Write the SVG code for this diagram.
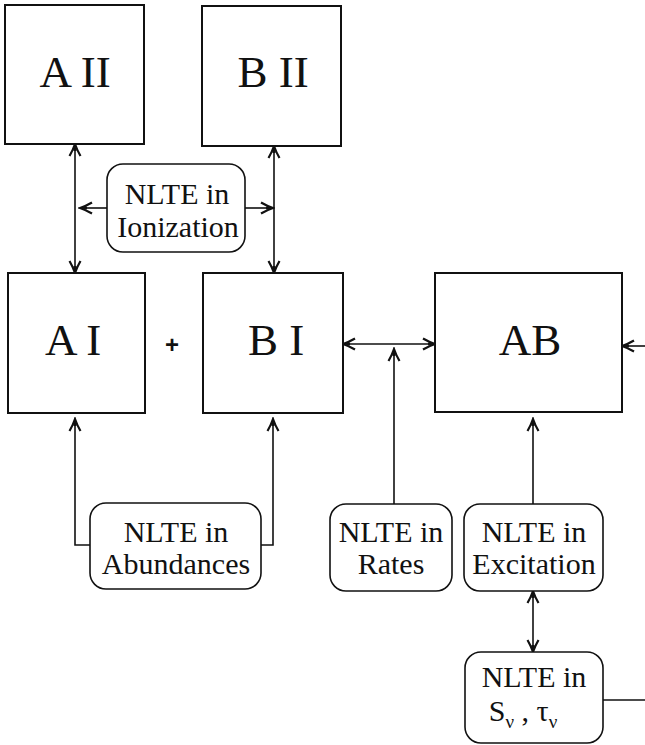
<svg xmlns="http://www.w3.org/2000/svg" width="645" height="745" viewBox="0 0 645 745">
  <style>
    .box { fill: #fff; stroke: #111; stroke-width: 2; }
    .rbox { fill: #fff; stroke: #111; stroke-width: 1.6; }
    .big { font-size: 45px; fill: #111; text-anchor: middle; }
    .lbl { font-size: 30px; fill: #111; text-anchor: middle; }
    .sub { font-size: 19px; }
    .wire { fill: none; stroke: #111; stroke-width: 1.6; }
    .both { marker-start: url(#head); marker-end: url(#head); }
    .one { marker-end: url(#head); }
  </style>
  <defs>
    <marker id="head" viewBox="-14 -8 16 16" refX="0" refY="0" markerWidth="16" markerHeight="16" markerUnits="userSpaceOnUse" orient="auto-start-reverse">
      <path d="M-12,-5.5 Q-6,-2 0,0 Q-6,2 -12,5.5" fill="none" stroke="#111" stroke-width="2.2"/>
      <path d="M-7,-1.6 L0,0 L-7,1.6 Z" fill="#111"/>
    </marker>
  </defs>

  <rect width="645" height="745" fill="#fff"/>

  <!-- connectors -->
  <g id="connectors">
    <line class="wire both" x1="75" y1="144" x2="75" y2="273"/>
    <line class="wire both" x1="274" y1="146" x2="274" y2="273"/>
    <line class="wire one" x1="107" y1="208" x2="80" y2="208"/>
    <line class="wire one" x1="245" y1="208" x2="273" y2="208"/>
    <line class="wire both" x1="343" y1="344" x2="435" y2="344"/>
    <line class="wire one" x1="394" y1="504" x2="394" y2="349"/>
    <path class="wire one" d="M90,545 H75 V419"/>
    <path class="wire one" d="M261,545 H273 V419"/>
    <line class="wire one" x1="533" y1="504" x2="533" y2="419"/>
    <line class="wire both" x1="533" y1="591" x2="533" y2="652"/>
    <line class="wire" x1="603" y1="700" x2="645" y2="700"/>
    <line class="wire one" x1="645" y1="346" x2="622" y2="346"/>
  </g>

  <g font-family="Liberation Serif, Times New Roman, serif">
    <!-- species boxes -->
    <g id="AII">
      <rect class="box" x="5" y="5" width="139" height="139"/>
      <text class="big" x="75" y="87" font-family="Liberation Serif">A II</text>
    </g>
    <g id="BII">
      <rect class="box" x="202" y="6" width="139" height="140"/>
      <text class="big" x="273" y="87" font-family="Liberation Serif">B II</text>
    </g>
    <g id="AI">
      <rect class="box" x="8" y="273" width="137" height="140"/>
      <text class="big" x="73" y="355" font-family="Liberation Serif">A I</text>
    </g>
    <g id="plus">
      <text x="172" y="353" font-family="Liberation Sans, Arial, sans-serif" font-size="24" font-weight="bold" fill="#111" text-anchor="middle">+</text>
    </g>
    <g id="BI">
      <rect class="box" x="203" y="273" width="140" height="140"/>
      <text class="big" x="276" y="355" font-family="Liberation Serif">B I</text>
    </g>
    <g id="AB">
      <rect class="box" x="435" y="273" width="187" height="139"/>
      <text class="big" x="530" y="355" font-family="Liberation Serif">AB</text>
    </g>

    <!-- NLTE effect boxes -->
    <g id="ionization">
      <rect class="rbox" x="107" y="164" width="138" height="88" rx="16"/>
      <text class="lbl" x="177" y="204" font-family="Liberation Serif">NLTE in</text>
      <text class="lbl" x="178" y="237" font-family="Liberation Serif">Ionization</text>
    </g>
    <g id="abundances">
      <rect class="rbox" x="90" y="503" width="171" height="86" rx="16"/>
      <text class="lbl" x="176" y="542" font-family="Liberation Serif">NLTE in</text>
      <text class="lbl" x="176" y="574" font-family="Liberation Serif">Abundances</text>
    </g>
    <g id="rates">
      <rect class="rbox" x="330" y="504" width="122" height="87" rx="16"/>
      <text class="lbl" x="391" y="542" font-family="Liberation Serif">NLTE in</text>
      <text class="lbl" x="391" y="574" font-family="Liberation Serif">Rates</text>
    </g>
    <g id="excitation">
      <rect class="rbox" x="464" y="504" width="139" height="87" rx="16"/>
      <text class="lbl" x="534" y="542" font-family="Liberation Serif">NLTE in</text>
      <text class="lbl" x="534" y="574" font-family="Liberation Serif">Excitation</text>
    </g>
    <g id="source">
      <rect class="rbox" x="465" y="652" width="138" height="91" rx="16"/>
      <text class="lbl" x="534" y="687" font-family="Liberation Serif">NLTE in</text>
      <text class="lbl" x="523" y="721" font-size="28" font-family="Liberation Serif">S<tspan class="sub" dy="7">ν</tspan><tspan dy="-7"> , τ</tspan><tspan class="sub" dy="7">ν</tspan></text>
    </g>
  </g>
</svg>
